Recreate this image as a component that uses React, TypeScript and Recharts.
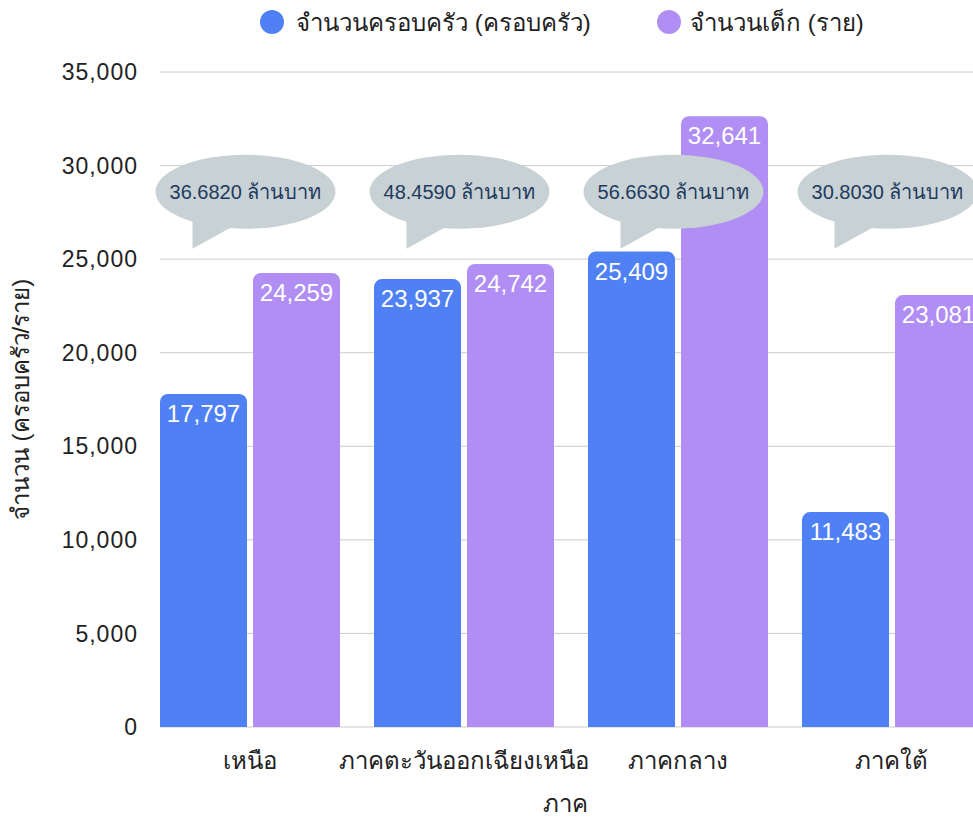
import { BarChart, Bar, XAxis, YAxis, CartesianGrid, Legend, LabelList, ReferenceDot } from 'recharts';

// ข้อมูลตามภาค
const regions = ['เหนือ', 'ภาคตะวันออกเฉียงเหนือ', 'ภาคกลาง', 'ภาคใต้'];
const households = [17797, 23937, 25409, 11483];
const children = [24259, 24742, 32641, 23081];
const budgets = ['36.6820', '48.4590', '56.6630', '30.8030'];
const yTicks = [0, 5000, 10000, 15000, 20000, 25000, 30000, 35000];

const BLUE = '#4f81f5';
const PURPLE = '#b08ef3';
const BUBBLE = '#c8d1d3';
const FONT = '"Liberation Sans", Arial, sans-serif';
const BUBBLE_LEVEL = 28600;

const data = regions.map((region, i) => ({
  region,
  households: households[i],
  children: children[i],
}));

const fmt = (v: any) => Number(v).toLocaleString('en-US');

function Bubble(props: any) {
  const { cx, cy, text } = props;
  const ex = cx - 4;
  return (
    <g>
      <polygon
        points={`${cx - 57},${cy + 22} ${cx - 57},${cy + 57} ${cx - 12},${cy + 32}`}
        fill={BUBBLE}
      />
      <ellipse cx={ex} cy={cy} rx={90} ry={37} fill={BUBBLE} />
      <text
        x={ex}
        y={cy}
        textAnchor="middle"
        dominantBaseline="central"
        fontSize={20}
        fill="#1f3a60"
        fontFamily={FONT}
      >
        {text} ล้านบาท
      </text>
    </g>
  );
}

const renderLegend = () => (
  <div style={{ position: 'relative', width: 1100, height: 64, fontFamily: FONT, fontSize: 24, color: '#222' }}>
    <div style={{ position: 'absolute', left: 252, top: 0, height: 28, display: 'flex', alignItems: 'center' }}>
      <span style={{ width: 24, height: 24, borderRadius: 12, background: BLUE, display: 'inline-block', marginRight: 12 }} />
      <span>จำนวนครอบครัว (ครอบครัว)</span>
    </div>
    <div style={{ position: 'absolute', left: 649, top: 0, height: 28, display: 'flex', alignItems: 'center' }}>
      <span style={{ width: 24, height: 24, borderRadius: 12, background: PURPLE, display: 'inline-block', marginRight: 9 }} />
      <span>จำนวนเด็ก (ราย)</span>
    </div>
  </div>
);

export default function App() {
  return (
    <div style={{ position: 'absolute', left: 8, top: 8, width: 965, height: 809, overflow: 'hidden' }}>
      <BarChart
        width={1100}
        height={809}
        data={data}
        margin={{ top: 0, right: 109.5, bottom: 0, left: 0 }}
        barCategoryGap={17.5}
        barGap={6}
      >
        <CartesianGrid vertical={false} stroke="#cccccc" />
        <Legend verticalAlign="top" content={renderLegend} wrapperStyle={{ top: 0, left: 0 }} />
        <XAxis
          dataKey="region"
          height={90}
          tickLine={false}
          axisLine={false}
          tickSize={0}
          tickMargin={25}
          padding={{ left: -17.5, right: 0 }}
          tick={{ fontSize: 24, fill: '#222', fontFamily: FONT }}
          label={{
            content: ({ viewBox }: any) => (
              <text
                x={viewBox.x + viewBox.width / 2 - 14}
                y={804}
                textAnchor="middle"
                fontSize={24}
                fill="#222"
                fontFamily={FONT}
              >
                ภาค
              </text>
            ),
          }}
        />
        <YAxis
          width={152}
          domain={[0, 35000]}
          ticks={yTicks}
          tickFormatter={fmt}
          tickLine={false}
          axisLine={false}
          tickSize={0}
          tickMargin={22}
          tick={{ fontSize: 23, fill: '#222', fontFamily: FONT, letterSpacing: 1 }}
          label={{
            content: ({ viewBox }: any) => {
              const x = 12;
              const y = viewBox.y + viewBox.height / 2;
              return (
                <text
                  x={x}
                  y={y}
                  transform={`rotate(-90 ${x} ${y})`}
                  textAnchor="middle"
                  dominantBaseline="central"
                  fontSize={24}
                  fill="#222"
                  fontFamily={FONT}
                >
                  จำนวน (ครอบครัว/ราย)
                </text>
              );
            },
          }}
        />
        <Bar dataKey="households" fill={BLUE} radius={[8, 8, 0, 0]} isAnimationActive={false}>
          <LabelList dataKey="households" position="insideTop" offset={11} formatter={fmt} fill="#fff" fontSize={24} fontFamily={FONT} />
        </Bar>
        <Bar dataKey="children" fill={PURPLE} radius={[8, 8, 0, 0]} isAnimationActive={false}>
          <LabelList dataKey="children" position="insideTop" offset={11} formatter={fmt} fill="#fff" fontSize={24} fontFamily={FONT} />
        </Bar>
        {regions.map((r, i) => (
          <ReferenceDot
            key={r}
            x={r}
            y={BUBBLE_LEVEL}
            shape={(p: any) => <Bubble {...p} text={budgets[i]} />}
          />
        ))}
      </BarChart>
    </div>
  );
}
